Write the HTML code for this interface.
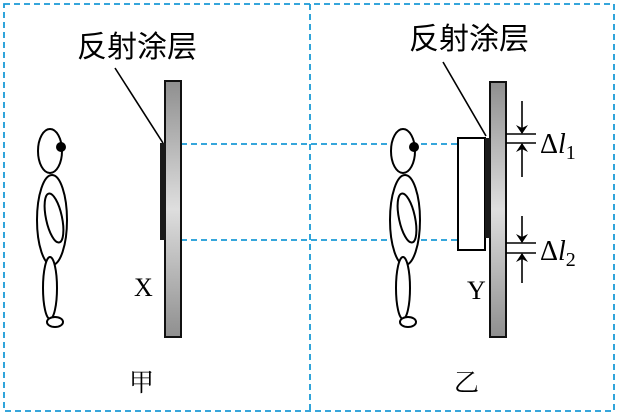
<!DOCTYPE html>
<html><head><meta charset="utf-8"><style>html,body{margin:0;padding:0;background:#fff}svg{display:block}</style></head>
<body>
<svg width="619" height="415" viewBox="0 0 619 415" xmlns="http://www.w3.org/2000/svg">
<defs>
<linearGradient id="g" x1="0" y1="0" x2="0" y2="1">
<stop offset="0" stop-color="#8f8f8f"/><stop offset="0.5" stop-color="#dedede"/><stop offset="1" stop-color="#8f8f8f"/>
</linearGradient>
<marker id="a" markerWidth="9" markerHeight="12" refX="8" refY="6" orient="auto" markerUnits="userSpaceOnUse">
<path d="M0,0 L9,6 L0,12 L3,6 Z" fill="#000"/></marker>
</defs>
<g fill="none" stroke="#1a9ad6" stroke-width="1.8" stroke-dasharray="6,4">
<rect x="4" y="4" width="610" height="407"/>
<line x1="310" y1="4" x2="310" y2="411"/>
<line x1="181" y1="144" x2="484" y2="144"/>
<line x1="181" y1="240" x2="484" y2="240"/>
</g>
<!-- left -->
<rect x="165" y="81" width="16" height="256" fill="url(#g)" stroke="#111" stroke-width="2"/>
<rect x="160" y="143" width="6" height="97" fill="#1a1a1a"/>
<line x1="115" y1="68" x2="163" y2="143" stroke="#000" stroke-width="1.6"/>
<text x="77" y="57" font-family="Liberation Sans,'Noto Sans CJK SC',sans-serif" font-size="30">反射涂层</text>
<text x="134" y="296" font-family="Liberation Serif,serif" font-size="26">X</text>
<text x="129" y="391" font-family="'Noto Serif CJK SC','Noto Sans CJK SC',serif" font-size="25">甲</text>
<g id="p" fill="#fff" stroke="#000" stroke-width="2">
<ellipse cx="50" cy="151" rx="12" ry="22"/>
<ellipse cx="52" cy="220" rx="15" ry="45"/>
<ellipse cx="54" cy="218" rx="8" ry="25" transform="rotate(-12 54 218)"/>
<ellipse cx="50" cy="288" rx="7" ry="31"/>
<ellipse cx="55" cy="322" rx="8" ry="5"/>
<circle cx="61" cy="147" r="5" fill="#000" stroke="none"/>
</g>
<!-- right -->
<use href="#p" x="353"/>
<rect x="458" y="138" width="27" height="112" fill="#fff" stroke="#000" stroke-width="2"/>
<rect x="490" y="82" width="16" height="255" fill="url(#g)" stroke="#111" stroke-width="2"/>
<rect x="485" y="138" width="6" height="100" fill="#1a1a1a"/>
<line x1="443" y1="62" x2="486" y2="136" stroke="#000" stroke-width="1.6"/>
<text x="409" y="49" font-family="Liberation Sans,'Noto Sans CJK SC',sans-serif" font-size="30">反射涂层</text>
<text x="467" y="299" font-family="Liberation Serif,serif" font-size="26">Y</text>
<text x="454" y="391" font-family="'Noto Serif CJK SC','Noto Sans CJK SC',serif" font-size="25">乙</text>
<g stroke="#000" stroke-width="1.6">
<line x1="506" y1="134" x2="536" y2="134"/><line x1="506" y1="143" x2="536" y2="143"/>
<line x1="522" y1="101" x2="522" y2="133" marker-end="url(#a)"/>
<line x1="522" y1="177" x2="522" y2="144" marker-end="url(#a)"/>
<line x1="506" y1="243" x2="536" y2="243"/><line x1="506" y1="253" x2="536" y2="253"/>
<line x1="522" y1="216" x2="522" y2="242" marker-end="url(#a)"/>
<line x1="522" y1="283" x2="522" y2="254" marker-end="url(#a)"/>
</g>
<g font-family="Liberation Serif,serif">
<text x="540" y="153" font-size="28">Δ<tspan font-style="italic">l</tspan><tspan font-size="20" dy="6">1</tspan></text>
<text x="540" y="260" font-size="28">Δ<tspan font-style="italic">l</tspan><tspan font-size="20" dy="6">2</tspan></text>
</g>
</svg>
</body></html>
